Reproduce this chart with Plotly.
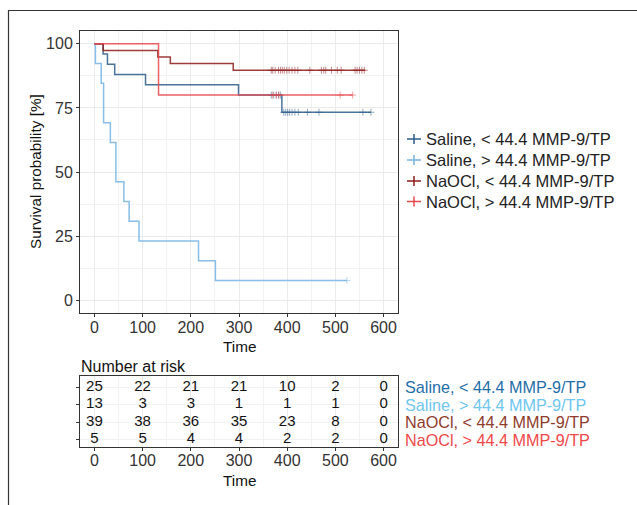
import numpy as np
import plotly.graph_objects as go

W, H = 637, 505

groups = ["Saline, < 44.4 MMP-9/TP", "Saline, > 44.4 MMP-9/TP",
          "NaOCl, < 44.4 MMP-9/TP", "NaOCl, > 44.4 MMP-9/TP"]
line_colors = ["#2B5C8A", "#74B3E3", "#8E1B1B", "#E8474C"]
label_colors = ["#1F6EA8", "#6EC6F0", "#8F3B2B", "#F04848"]

# Kaplan-Meier step points (time, survival %)
saline_lo_t = [0, 18, 27, 42, 106, 299, 389, 574]
saline_lo_s = [100, 96, 92, 88, 84, 80, 73.3, 73.3]
saline_lo_cens = [367, 372, 377, 382, 386, 393, 397, 401, 405, 410, 416, 423, 442, 466, 557, 574]

saline_hi_t = [0, 2, 14, 19, 33, 44.5, 61, 72, 92.5, 216, 251, 524]
saline_hi_s = [100, 92.3, 84.6, 69.2, 61.5, 46.2, 38.5, 30.8, 23.1, 15.4, 7.7, 7.7]
saline_hi_cens = [524]

naocl_lo_t = [0, 18, 131.5, 157.5, 288, 562]
naocl_lo_s = [100, 97.4, 94.9, 92.3, 89.7, 89.7]
naocl_lo_cens = [367, 370, 375, 382, 386, 390, 394, 399, 404, 410, 416, 422, 447,
                 471, 476, 480, 492, 504, 512, 541, 545, 550, 555, 560]

naocl_hi_t = [0, 133, 536]
naocl_hi_s = [100, 80, 80]
naocl_hi_cens = [370, 378, 383, 510, 536]

risk_times = [0, 100, 200, 300, 400, 500, 600]
risk_saline_lo = [25, 22, 21, 21, 10, 2, 0]
risk_saline_hi = [13, 3, 3, 1, 1, 1, 0]
risk_naocl_lo = [39, 38, 36, 35, 23, 8, 0]
risk_naocl_hi = [5, 5, 4, 4, 2, 2, 0]

x_ticks = [0, 100, 200, 300, 400, 500, 600]
y_ticks = [0, 25, 50, 75, 100]

curves = [
    (saline_lo_t, saline_lo_s, saline_lo_cens),
    (saline_hi_t, saline_hi_s, saline_hi_cens),
    (naocl_lo_t, naocl_lo_s, naocl_lo_cens),
    (naocl_hi_t, naocl_hi_s, naocl_hi_cens),
]
risks = [risk_saline_lo, risk_saline_hi, risk_naocl_lo, risk_naocl_hi]

FONT = "Liberation Sans, Arial, sans-serif"
TXT = "#333333"

fig = go.Figure()

for i, (t, s, c) in enumerate(curves):
    col = line_colors[i]
    fig.add_trace(go.Scatter(x=t, y=s, mode="lines", line=dict(shape="hv", width=1.5, color=col),
                             opacity=0.85, showlegend=False, hoverinfo="skip",
                             xaxis="x", yaxis="y"))
    ta = np.array(t, dtype=float)
    sa = np.array(s, dtype=float)
    idx = np.searchsorted(ta, np.array(c, dtype=float), side="right") - 1
    fig.add_trace(go.Scatter(x=c, y=sa[idx], mode="markers",
                             marker=dict(symbol="cross-thin", size=5,
                                         line=dict(width=1, color=col), color=col),
                             opacity=0.5, showlegend=False, hoverinfo="skip",
                             xaxis="x", yaxis="y"))

# risk table
for i, r in enumerate(risks):
    row = 4 - i
    fig.add_trace(go.Scatter(x=risk_times, y=[row] * len(risk_times), mode="text",
                             text=[str(v) for v in r],
                             textfont=dict(family=FONT, size=15, color="#111111"),
                             textposition="middle center", showlegend=False,
                             hoverinfo="skip", xaxis="x2", yaxis="y2"))

px_x = lambda p: p / W
px_y = lambda p: 1 - p / H

grid_major = "#EBEBEB"
grid_minor = "#F2F2F2"

axis_common = dict(showline=True, mirror=True, linecolor="#333333", linewidth=1,
                   ticks="outside", ticklen=3, tickcolor="#333333", zeroline=False,
                   tickfont=dict(family=FONT, size=16, color=TXT))

TITLE_FONT = dict(family=FONT, size=15.3, color="#111111")
annotations = [
    dict(text="Time", x=px_x(239), y=px_y(346), xref="paper", yref="paper",
         showarrow=False, font=TITLE_FONT, xanchor="center", yanchor="middle"),
    dict(text="Survival probability [%]", x=px_x(35), y=px_y(172), xref="paper", yref="paper",
         showarrow=False, font=TITLE_FONT, textangle=-90,
         xanchor="center", yanchor="middle"),
    dict(text="Number at risk", x=px_x(79), y=px_y(366), xref="paper", yref="paper",
         showarrow=False, font=dict(family=FONT, size=16, color="#111111"),
         xanchor="left", yanchor="middle"),
    dict(text="Time", x=px_x(239), y=px_y(480), xref="paper", yref="paper",
         showarrow=False, font=TITLE_FONT, xanchor="center", yanchor="middle"),
]

# legend (keys as shapes + text annotations)
legend_rows_px = [139, 160, 181, 201.5]
shapes = [dict(type="rect", xref="paper", yref="paper",
               x0=px_x(8.5), y0=px_y(10.5), x1=1.05, y1=-0.05,
               line=dict(color="#333333", width=1.2))]
for i, g in enumerate(groups):
    yy = legend_rows_px[i]
    annotations.append(dict(text=g, x=px_x(403), y=4 - i, xref="paper", yref="y2",
                            showarrow=False, xanchor="left", yanchor="middle",
                            font=dict(family=FONT, size=16.2, color=label_colors[i])))
    annotations.append(dict(text=g, x=px_x(424), y=px_y(yy), xref="paper", yref="paper",
                            showarrow=False, xanchor="left", yanchor="middle",
                            font=dict(family=FONT, size=16.5, color="#222222")))
    shapes.append(dict(type="line", xref="paper", yref="paper",
                       x0=px_x(407), x1=px_x(421), y0=px_y(yy), y1=px_y(yy),
                       line=dict(color=line_colors[i], width=1.5)))
    shapes.append(dict(type="line", xref="paper", yref="paper",
                       x0=px_x(414), x1=px_x(414), y0=px_y(yy - 5), y1=px_y(yy + 5),
                       line=dict(color=line_colors[i], width=1.5)))

fig.update_layout(
    width=W, height=H, margin=dict(l=0, r=0, t=0, b=0),
    paper_bgcolor="white", plot_bgcolor="white", showlegend=False,
    font=dict(family=FONT, size=16, color=TXT),
    xaxis=dict(domain=[px_x(80), px_x(398)], range=[-30, 630], tickvals=x_ticks,
               showgrid=True, gridcolor=grid_major, gridwidth=1, ticklabelstandoff=-3,
               minor=dict(dtick=50, tick0=0, showgrid=True, gridcolor=grid_minor, gridwidth=1, ticks=""),
               anchor="y", **axis_common),
    yaxis=dict(domain=[px_y(313), px_y(31)], range=[-5, 105], tickvals=y_ticks,
               showgrid=True, gridcolor=grid_major, gridwidth=1,
               minor=dict(dtick=12.5, tick0=0, showgrid=True, gridcolor=grid_minor, gridwidth=1, ticks=""),
               anchor="x", **axis_common),
    xaxis2=dict(domain=[px_x(80), px_x(398)], range=[-30, 630], tickvals=x_ticks,
                showgrid=True, gridcolor=grid_major, gridwidth=1, ticklabelstandoff=-4,
                minor=dict(dtick=50, tick0=0, showgrid=True, gridcolor=grid_minor, gridwidth=1, ticks=""),
                anchor="y2", **axis_common),
    yaxis2=dict(domain=[px_y(447), px_y(376)], range=[0.58, 4.63], tickvals=[1, 2, 3, 4],
                showticklabels=False, showgrid=True, gridcolor=grid_minor, gridwidth=1,
                anchor="x2", **axis_common),
    annotations=annotations,
    shapes=shapes,
)

fig.write_html("out.html", config={"displayModeBar": False},
               post_script="document.body.style.margin='0';document.body.style.overflow='hidden';")
